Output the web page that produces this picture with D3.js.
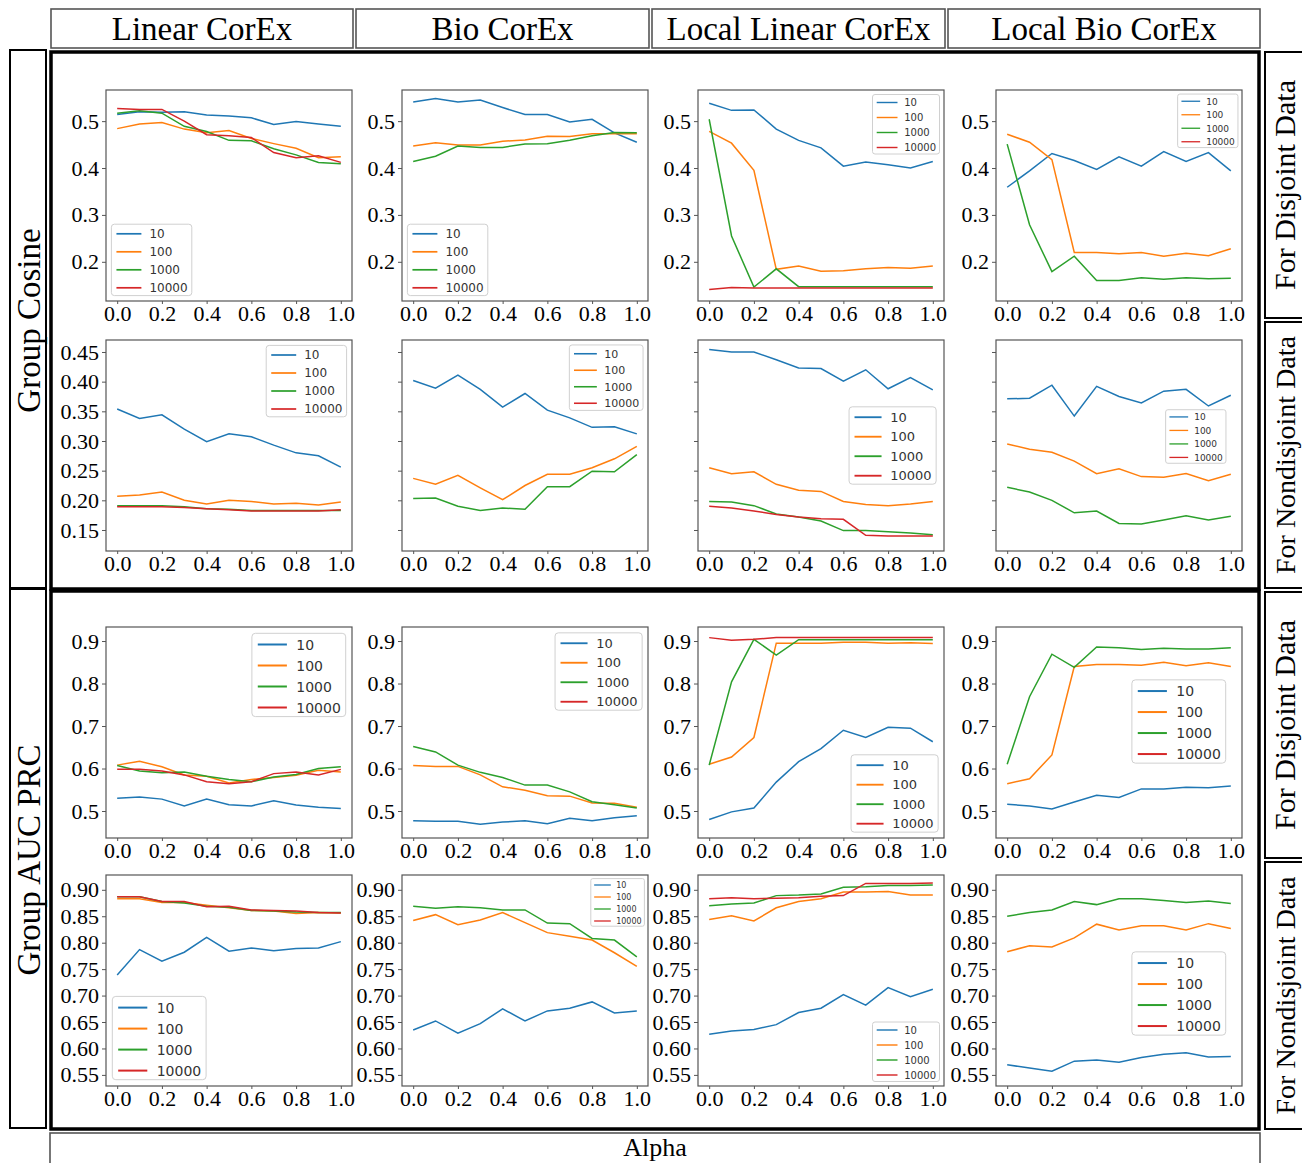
<!DOCTYPE html>
<html>
<head>
<meta charset="utf-8">
<script src="https://cdn.jsdelivr.net/npm/d3@7/dist/d3.min.js"></script>
<style>
  body { margin: 0; background: #fff; }
  svg { display: block; }
</style>
</head>
<body>
<svg id="chart" width="1302" height="1163"></svg>
<script>
var alphas = [0.0, 0.1, 0.2, 0.3, 0.4, 0.5, 0.6, 0.7, 0.8, 0.9, 1.0]
var sizes = ['10', '100', '1000', '10000']
var methods = ['Linear CorEx', 'Bio CorEx', 'Local Linear CorEx', 'Local Bio CorEx']
var metrics = ['Group Cosine', 'Group AUC PRC']
var dataKinds = ['For Disjoint Data', 'For Nondisjoint Data']
var xTicks = [0.0, 0.2, 0.4, 0.6, 0.8, 1.0]

var cosineDisjointTicks = [0.2, 0.3, 0.4, 0.5]
var cosineNondisjointTicks = [0.15, 0.20, 0.25, 0.30, 0.35, 0.40, 0.45]
var aucDisjointTicks = [0.5, 0.6, 0.7, 0.8, 0.9]
var aucNondisjointTicks = [0.55, 0.60, 0.65, 0.70, 0.75, 0.80, 0.85, 0.90]

// per method: series 10, 100, 1000, 10000 (null = not run)
var cosineDisjoint = [
  [[0.514, 0.520, 0.519, 0.520, 0.513, 0.511, 0.507, 0.493, 0.499, 0.494, 0.489],
   [0.484, 0.494, 0.497, 0.483, 0.475, 0.480, 0.463, 0.452, 0.442, 0.422, 0.424],
   [0.517, 0.522, 0.517, 0.489, 0.478, 0.459, 0.458, 0.441, 0.428, 0.412, 0.409],
   [0.527, 0.525, 0.525, 0.500, 0.471, 0.469, 0.465, 0.433, 0.422, 0.426, 0.412]],
  [[0.541, 0.548, 0.541, 0.545, 0.529, 0.514, 0.514, 0.498, 0.504, 0.475, 0.455],
   [0.447, 0.454, 0.449, 0.449, 0.457, 0.460, 0.468, 0.467, 0.473, 0.473, 0.473],
   [0.414, 0.425, 0.447, 0.444, 0.444, 0.451, 0.452, 0.459, 0.469, 0.476, 0.475],
   null],
  [[0.538, 0.523, 0.524, 0.483, 0.459, 0.443, 0.404, 0.413, 0.407, 0.400, 0.414],
   [0.478, 0.453, 0.395, 0.184, 0.191, 0.180, 0.181, 0.185, 0.188, 0.186, 0.191],
   [0.504, 0.255, 0.146, 0.185, 0.147, 0.147, 0.147, 0.147, 0.147, 0.147, 0.147],
   [0.141, 0.145, 0.144, 0.144, 0.144, 0.144, 0.144, 0.144, 0.144, 0.144, 0.144]],
  [[0.359, 0.394, 0.431, 0.416, 0.397, 0.424, 0.404, 0.435, 0.414, 0.433, 0.394],
   [0.472, 0.455, 0.418, 0.220, 0.220, 0.217, 0.220, 0.212, 0.218, 0.213, 0.228],
   [0.451, 0.279, 0.179, 0.212, 0.160, 0.160, 0.166, 0.163, 0.166, 0.164, 0.165],
   null]
]

var cosineNondisjoint = [
  [[0.354, 0.338, 0.344, 0.320, 0.299, 0.312, 0.307, 0.293, 0.280, 0.275, 0.256],
   [0.207, 0.209, 0.214, 0.200, 0.194, 0.200, 0.198, 0.194, 0.195, 0.192, 0.197],
   [0.191, 0.191, 0.191, 0.189, 0.186, 0.185, 0.183, 0.183, 0.183, 0.183, 0.183],
   [0.189, 0.189, 0.189, 0.188, 0.186, 0.184, 0.182, 0.182, 0.182, 0.182, 0.184]],
  [[0.402, 0.389, 0.411, 0.387, 0.357, 0.380, 0.352, 0.339, 0.323, 0.324, 0.312],
   [0.237, 0.227, 0.242, 0.221, 0.201, 0.225, 0.244, 0.244, 0.255, 0.270, 0.291],
   [0.203, 0.204, 0.190, 0.183, 0.187, 0.185, 0.223, 0.223, 0.249, 0.248, 0.277],
   null],
  [[0.454, 0.450, 0.450, 0.437, 0.423, 0.422, 0.401, 0.420, 0.388, 0.407, 0.386],
   [0.255, 0.245, 0.248, 0.227, 0.217, 0.215, 0.198, 0.193, 0.191, 0.194, 0.198],
   [0.198, 0.197, 0.191, 0.177, 0.172, 0.165, 0.149, 0.149, 0.147, 0.145, 0.142],
   [0.190, 0.187, 0.182, 0.176, 0.172, 0.169, 0.168, 0.141, 0.140, 0.140, 0.140]],
  [[0.371, 0.372, 0.394, 0.342, 0.392, 0.375, 0.364, 0.384, 0.387, 0.359, 0.377],
   [0.295, 0.286, 0.281, 0.266, 0.245, 0.253, 0.240, 0.239, 0.245, 0.233, 0.244],
   [0.222, 0.214, 0.200, 0.179, 0.182, 0.161, 0.160, 0.167, 0.174, 0.167, 0.173],
   null]
]

var aucDisjoint = [
  [[0.530, 0.533, 0.528, 0.512, 0.528, 0.515, 0.512, 0.524, 0.514, 0.509, 0.506],
   [0.608, 0.617, 0.604, 0.585, 0.582, 0.566, 0.574, 0.579, 0.584, 0.596, 0.592],
   [0.607, 0.594, 0.590, 0.592, 0.582, 0.574, 0.569, 0.580, 0.586, 0.600, 0.604],
   [0.598, 0.598, 0.594, 0.585, 0.569, 0.564, 0.569, 0.588, 0.592, 0.585, 0.598]],
  [[0.477, 0.476, 0.476, 0.469, 0.474, 0.477, 0.470, 0.483, 0.477, 0.484, 0.489],
   [0.607, 0.605, 0.605, 0.585, 0.557, 0.549, 0.536, 0.535, 0.519, 0.518, 0.509],
   [0.652, 0.639, 0.608, 0.591, 0.579, 0.561, 0.561, 0.545, 0.522, 0.515, 0.507],
   null],
  [[0.480, 0.498, 0.507, 0.568, 0.616, 0.647, 0.690, 0.673, 0.697, 0.695, 0.663],
   [0.610, 0.627, 0.673, 0.895, 0.895, 0.895, 0.897, 0.897, 0.895, 0.896, 0.894],
   [0.608, 0.804, 0.904, 0.867, 0.903, 0.903, 0.903, 0.903, 0.903, 0.903, 0.903],
   [0.908, 0.902, 0.904, 0.908, 0.908, 0.908, 0.908, 0.908, 0.908, 0.908, 0.908]],
  [[0.516, 0.512, 0.505, 0.521, 0.537, 0.532, 0.552, 0.552, 0.556, 0.555, 0.559],
   [0.564, 0.576, 0.632, 0.840, 0.845, 0.845, 0.843, 0.850, 0.842, 0.849, 0.840],
   [0.610, 0.769, 0.869, 0.838, 0.886, 0.884, 0.880, 0.883, 0.881, 0.881, 0.884],
   null]
]

var aucNondisjoint = [
  [[0.739, 0.787, 0.765, 0.782, 0.810, 0.784, 0.790, 0.785, 0.789, 0.790, 0.802],
   [0.883, 0.883, 0.876, 0.876, 0.871, 0.866, 0.861, 0.860, 0.855, 0.857, 0.856],
   [0.887, 0.887, 0.878, 0.875, 0.869, 0.867, 0.861, 0.860, 0.858, 0.857, 0.857],
   [0.887, 0.887, 0.878, 0.878, 0.868, 0.869, 0.862, 0.861, 0.860, 0.857, 0.856]],
  [[0.635, 0.652, 0.629, 0.647, 0.675, 0.652, 0.671, 0.676, 0.688, 0.667, 0.671],
   [0.842, 0.853, 0.834, 0.843, 0.857, 0.838, 0.819, 0.812, 0.805, 0.781, 0.755],
   [0.869, 0.865, 0.868, 0.866, 0.862, 0.862, 0.837, 0.836, 0.808, 0.805, 0.773],
   null],
  [[0.627, 0.633, 0.636, 0.645, 0.668, 0.676, 0.702, 0.682, 0.715, 0.698, 0.712],
   [0.844, 0.851, 0.841, 0.866, 0.878, 0.883, 0.896, 0.896, 0.897, 0.890, 0.890],
   [0.870, 0.873, 0.875, 0.889, 0.890, 0.892, 0.905, 0.906, 0.908, 0.908, 0.909],
   [0.883, 0.885, 0.883, 0.884, 0.885, 0.888, 0.889, 0.912, 0.912, 0.912, 0.913]],
  [[0.569, 0.563, 0.557, 0.576, 0.578, 0.574, 0.583, 0.589, 0.592, 0.584, 0.585],
   [0.783, 0.794, 0.792, 0.809, 0.835, 0.824, 0.832, 0.832, 0.824, 0.836, 0.827],
   [0.850, 0.857, 0.862, 0.878, 0.872, 0.883, 0.883, 0.880, 0.876, 0.879, 0.874],
   null]
]

var colors = ['#1f77b4', '#ff7f0e', '#2ca02c', '#d62728']
var serif = '"Liberation Serif", "Times New Roman", serif'
var sans = '"DejaVu Sans", sans-serif'

// layout of the panel grid
var colLeft = [106, 402, 698, 996]
var panelW = 246
var rowTop = [90, 340, 627, 875]
var panelH = 211
var rowDomain = [[0.1164, 0.5664], [0.1146, 0.4702], [0.4365, 0.933], [0.529, 0.928]]

var rows = [
  { values: cosineDisjoint, ticks: cosineDisjointTicks, fmt: '.1f' },
  { values: cosineNondisjoint, ticks: cosineNondisjointTicks, fmt: '.2f', sharey: true },
  { values: aucDisjoint, ticks: aucDisjointTicks, fmt: '.1f' },
  { values: aucNondisjoint, ticks: aucNondisjointTicks, fmt: '.2f' }
]

// legend placement per panel [loc, fontSize, dx, dy]
var legendLayout = [
  [['lower left', 12, 0, 0], ['lower left', 12, 0, 0], ['upper right', 10, 0, 0], ['upper right', 9, 0, 0]],
  [['upper right', 12, 0, 0], ['upper right', 11, 0, 0], ['center right', 13, -2, 0], ['center right', 9, -12, -9]],
  [['upper right', 14, 0, 0], ['upper right', 13, 0, 0], ['lower right', 13, 0, 0], ['center right', 14, -10, -11]],
  [['lower left', 14, 0, 0], ['upper right', 8, 0, 0], ['lower right', 10, 0, 0], ['center right', 14, -10, 13]]
]

var svg = d3.select('#chart')
svg.append('rect').attr('width', 1302).attr('height', 1163).attr('fill', '#fff')

// frames and labels
var frames = svg.append('g').attr('fill', 'none')
var headerX = [[51, 353], [356, 649], [652, 945], [948, 1260]]
headerX.forEach(function (h, i) {
  frames.append('rect')
    .attr('x', h[0]).attr('y', 9).attr('width', h[1] - h[0]).attr('height', 39)
    .attr('stroke', '#555').attr('stroke-width', 1.6)
  svg.append('text')
    .attr('x', (h[0] + h[1]) / 2).attr('y', 40)
    .attr('text-anchor', 'middle')
    .style('font-family', serif).style('font-size', '33px')
    .text(methods[i])
})

var bandY = [[52, 589], [591, 1129]]
bandY.forEach(function (b, i) {
  frames.append('rect')
    .attr('x', 51).attr('y', b[0]).attr('width', 1208).attr('height', b[1] - b[0])
    .attr('stroke', '#000').attr('stroke-width', 3.5)
  frames.append('rect')
    .attr('x', 10).attr('y', b[0] - 2).attr('width', 36).attr('height', b[1] - b[0] + 1)
    .attr('stroke', '#000').attr('stroke-width', 2)
  svg.append('text')
    .attr('transform', 'translate(40,' + ((b[0] + b[1]) / 2) + ') rotate(-90)')
    .attr('text-anchor', 'middle')
    .style('font-family', serif).style('font-size', '33px')
    .text(metrics[i])
})

var sideY = [[52, 318], [322, 588], [592, 858], [862, 1129]]
sideY.forEach(function (s, i) {
  frames.append('rect')
    .attr('x', 1265).attr('y', s[0]).attr('width', 50).attr('height', s[1] - s[0])
    .attr('stroke', '#000').attr('stroke-width', 2)
  svg.append('text')
    .attr('transform', 'translate(1295,' + ((s[0] + s[1]) / 2) + ') rotate(-90)')
    .attr('text-anchor', 'middle')
    .style('font-family', serif).style('font-size', i % 2 ? '28px' : '30px')
    .text(dataKinds[i % 2])
})

frames.append('rect')
  .attr('x', 50).attr('y', 1133).attr('width', 1210).attr('height', 50)
  .attr('stroke', '#555').attr('stroke-width', 1.6)
svg.append('text')
  .attr('x', 655).attr('y', 1156)
  .attr('text-anchor', 'middle')
  .style('font-family', serif).style('font-size', '26px')
  .text('Alpha')

function drawLegend (g, spec, w, h) {
  var fs = spec[1]
  var bw = fs * 6.7
  var bh = fs * 5.95
  var pad = fs * 0.45
  var x = spec[0].indexOf('left') >= 0 ? pad : w - pad - bw
  var y = spec[0].indexOf('upper') === 0 ? pad : spec[0].indexOf('lower') === 0 ? h - pad - bh : (h - bh) / 2
  x += spec[2]
  y += spec[3]

  var lg = g.append('g').attr('transform', 'translate(' + x + ',' + y + ')')
  lg.append('rect')
    .attr('width', bw).attr('height', bh).attr('rx', fs * 0.25)
    .attr('fill', '#fff').attr('fill-opacity', 0.85)
    .attr('stroke', '#d0d0d0').attr('stroke-width', 1)

  var item = lg.selectAll('.item')
    .data(sizes)
    .enter()
    .append('g')
    .attr('class', 'item')
    .attr('transform', function (d, i) { return 'translate(0,' + (fs * 0.8 + i * fs * 1.5) + ')' })
  item.append('line')
    .attr('x1', fs * 0.42).attr('x2', fs * 2.5)
    .attr('stroke', function (d, i) { return colors[i] })
    .attr('stroke-width', Math.max(1.3, fs / 7))
  item.append('text')
    .attr('x', fs * 3.17).attr('dy', '0.36em')
    .style('font-family', sans).style('font-size', fs + 'px')
    .attr('fill', '#333')
    .text(function (d) { return d })
}

rows.forEach(function (row, r) {
  var y = d3.scaleLinear().domain(rowDomain[r]).range([panelH, 0])
  var fmt = d3.format(row.fmt)

  methods.forEach(function (m, c) {
    var x = d3.scaleLinear().domain([-0.05, 1.05]).range([0, panelW])
    var g = svg.append('g').attr('transform', 'translate(' + colLeft[c] + ',' + rowTop[r] + ')')

    var showLabels = !row.sharey || c === 0
    var yAxis = d3.axisLeft(y).tickValues(row.ticks).tickSize(4).tickPadding(3)
      .tickFormat(showLabels ? fmt : '')
    var xAxis = d3.axisBottom(x).tickValues(xTicks).tickSize(3).tickPadding(1)
      .tickFormat(d3.format('.1f'))

    g.append('g').call(yAxis)
    g.append('g').attr('transform', 'translate(0,' + panelH + ')').call(xAxis)
    g.selectAll('.domain').remove()
    g.selectAll('.tick line').attr('stroke', '#555')
    g.selectAll('.tick text')
      .attr('fill', '#000')
      .style('font-family', serif).style('font-size', '22px')

    g.append('rect')
      .attr('width', panelW).attr('height', panelH)
      .attr('fill', 'none').attr('stroke', '#555').attr('stroke-width', 1.2)

    var line = d3.line()
      .x(function (d, i) { return x(alphas[i]) })
      .y(function (d) { return y(d) })

    row.values[c].forEach(function (s, k) {
      if (!s) return
      g.append('path')
        .datum(s)
        .attr('d', line)
        .attr('fill', 'none')
        .attr('stroke', colors[k])
        .attr('stroke-width', 1.5)
    })

    drawLegend(g, legendLayout[r][c], panelW, panelH)
  })
})
</script>
</body>
</html>
